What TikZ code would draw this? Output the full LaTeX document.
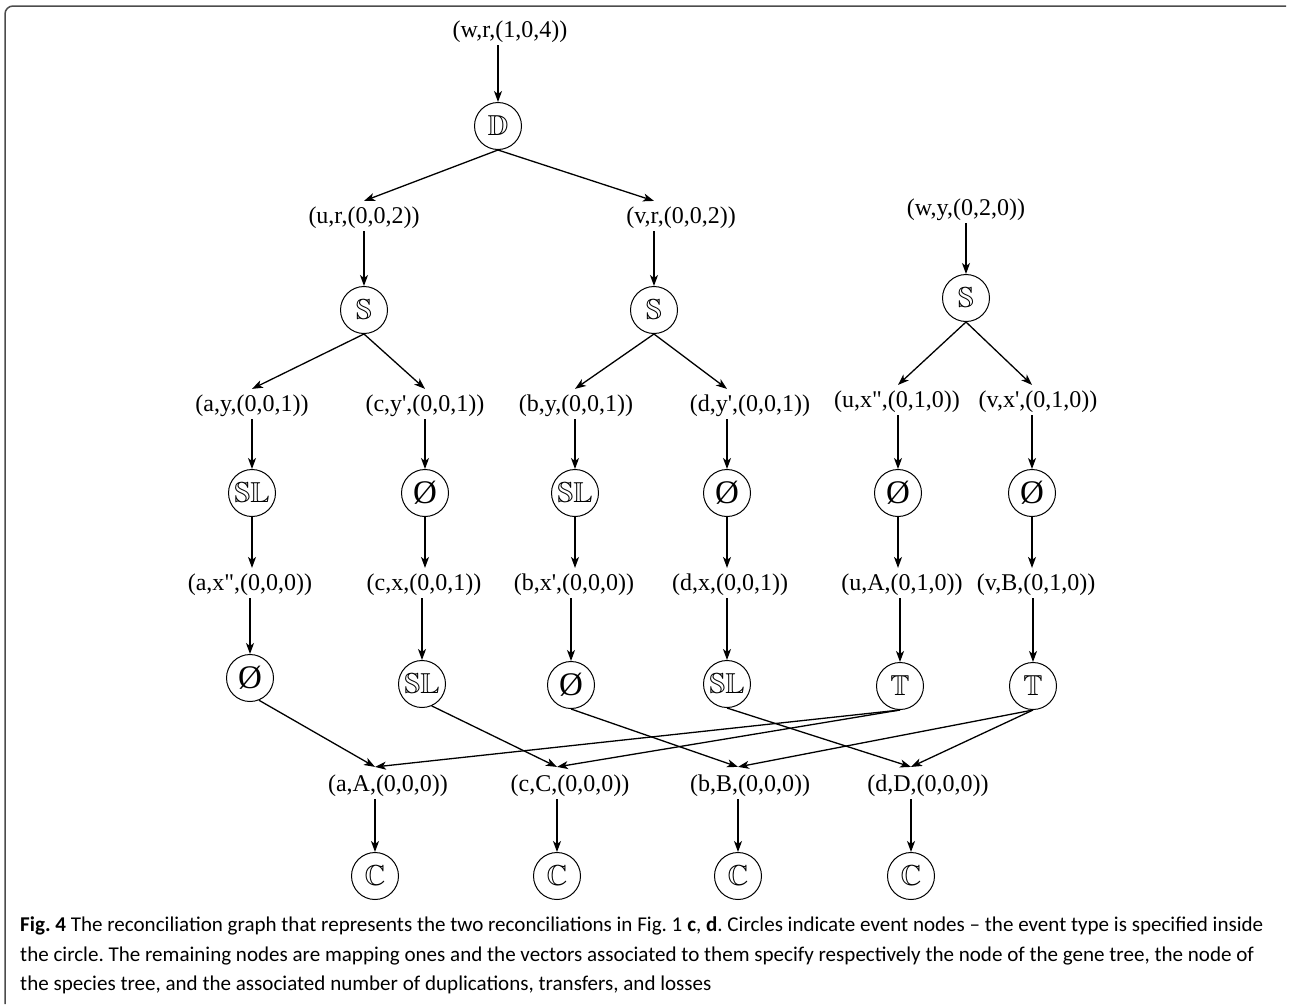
\documentclass[tikz,border=0pt]{standalone}
\usepackage{fontspec}
\usepackage{amssymb}
\usepackage{graphicx}
\setmainfont{Liberation Serif}
\newfontfamily\capfont{Carlito}
\usetikzlibrary{arrows.meta}
\newcommand{\myq}{\textquotesingle}
\newcommand{\mydq}{\textquotedbl}
\newcommand{\myempty}{{\fontsize{33}{33}\selectfont\O}}
\newcommand{\bbsym}[1]{\scalebox{1.16}{$\mathbb{#1}$}}
\begin{document}
\begin{tikzpicture}[x=1pt,y=-1pt,
  lab/.style={inner sep=2pt, font=\fontsize{24}{27}\selectfont},
  ev/.style={circle, draw, line width=1pt, minimum size=47pt, inner sep=0pt, font=\fontsize{24.88}{30}\selectfont},
  arr/.style={-{Stealth[length=11pt,width=8pt,inset=3pt]}, line width=1.3pt},
  frame/.style={draw=black!70, line width=1.5pt, rounded corners=8pt},
  captext/.style={anchor=base west, inner sep=0pt, font=\capfont\fontsize{21.05}{24}\selectfont\frenchspacing}
]
\useasboundingbox (0,0) rectangle (1290,1004);
\draw[frame] (1286,6) -- (5,6) -- (5,1004);

% event nodes
\node[ev] (D)  at (498,126) {\bbsym{D}};
\node[ev] (S1) at (364,310) {\bbsym{S}};
\node[ev] (S2) at (654,310) {\bbsym{S}};
\node[ev] (S3) at (966,298) {\bbsym{S}};
\node[ev] (L1) at (252,493) {\bbsym{SL}};
\node[ev] (E1) at (425,493) {\myempty};
\node[ev] (L2) at (575,493) {\bbsym{SL}};
\node[ev] (E2) at (727,493) {\myempty};
\node[ev] (E3) at (898,493) {\myempty};
\node[ev] (E4) at (1032,493) {\myempty};
\node[ev] (E5) at (250,678) {\myempty};
\node[ev] (L3) at (422,684) {\bbsym{SL}};
\node[ev] (E6) at (571,685) {\myempty};
\node[ev] (L4) at (727,684) {\bbsym{SL}};
\node[ev] (T1) at (900,686) {\bbsym{T}};
\node[ev] (T2) at (1033,686) {\bbsym{T}};
\node[ev] (C1) at (375,876) {\bbsym{C}};
\node[ev] (C2) at (557,876) {\bbsym{C}};
\node[ev] (C3) at (738,876) {\bbsym{C}};
\node[ev] (C4) at (911,876) {\bbsym{C}};

% mapping nodes
\node[lab] (wr) at (510,32) {(w,r,(1,0,4))};
\node[lab] (ur) at (364,218) {(u,r,(0,0,2))};
\node[lab] (vr) at (681,218) {(v,r,(0,0,2))};
\node[lab] (wy) at (966,210) {(w,y,(0,2,0))};
\node[lab] (ay) at (252,406) {(a,y,(0,0,1))};
\node[lab] (cy) at (425,406) {(c,y\myq,(0,0,1))};
\node[lab] (by) at (576,406) {(b,y,(0,0,1))};
\node[lab] (dy) at (750,406) {(d,y\myq,(0,0,1))};
\node[lab] (ux) at (897,402) {(u,x\mydq,(0,1,0))};
\node[lab] (vx) at (1038,402) {(v,x\myq,(0,1,0))};
\node[lab] (ax) at (250,585) {(a,x\mydq,(0,0,0))};
\node[lab] (cx) at (424,585) {(c,x,(0,0,1))};
\node[lab] (bx) at (574,585) {(b,x\myq,(0,0,0))};
\node[lab] (dx) at (730,585) {(d,x,(0,0,1))};
\node[lab] (uA) at (902,585) {(u,A,(0,1,0))};
\node[lab] (vB) at (1036,585) {(v,B,(0,1,0))};
\node[lab] (aA) at (388,786) {(a,A,(0,0,0))};
\node[lab] (cC) at (570,786) {(c,C,(0,0,0))};
\node[lab] (bB) at (750,786) {(b,B,(0,0,0))};
\node[lab] (dD) at (928,786) {(d,D,(0,0,0))};

% edges
\draw[arr] (wr.south -| D) -- (D);
\draw[arr] (D.south) -- ([yshift=4pt]ur.north -| S1);
\draw[arr] (D.south) -- ([yshift=4pt]vr.north -| S2);
\draw[arr] (ur.south -| S1) -- (S1);
\draw[arr] (vr.south -| S2) -- (S2);
\draw[arr] (wy.south -| S3) -- (S3);
\draw[arr] (S1.south) -- ([yshift=4pt]ay.north -| L1);
\draw[arr] (S1.south) -- ([yshift=4pt]cy.north -| E1);
\draw[arr] (S2.south) -- ([yshift=4pt]by.north -| L2);
\draw[arr] (S2.south) -- ([yshift=4pt]dy.north -| E2);
\draw[arr] (S3.south) -- ([yshift=4pt]ux.north -| E3);
\draw[arr] (S3.south) -- ([yshift=4pt]vx.north -| E4);
\draw[arr] (ay.south -| L1) -- (L1);
\draw[arr] (cy.south -| E1) -- (E1);
\draw[arr] (by.south -| L2) -- (L2);
\draw[arr] (dy.south -| E2) -- (E2);
\draw[arr] (ux.south -| E3) -- (E3);
\draw[arr] (vx.south -| E4) -- (E4);
\draw[arr] (L1) -- ([yshift=4pt]ax.north -| L1);
\draw[arr] (E1) -- ([yshift=4pt]cx.north -| E1);
\draw[arr] (L2) -- ([yshift=4pt]bx.north -| L2);
\draw[arr] (E2) -- ([yshift=4pt]dx.north -| E2);
\draw[arr] (E3) -- ([yshift=4pt]uA.north -| E3);
\draw[arr] (E4) -- ([yshift=4pt]vB.north -| E4);
\draw[arr] (ax.south -| E5) -- (E5);
\draw[arr] (cx.south -| L3) -- (L3);
\draw[arr] (bx.south -| E6) -- (E6);
\draw[arr] (dx.south -| L4) -- (L4);
\draw[arr] (uA.south -| T1) -- (T1);
\draw[arr] (vB.south -| T2) -- (T2);
\draw[arr] (E5.-68) -- ([yshift=6pt]aA.north -| C1);
\draw[arr] (L3.-66) -- ([yshift=6pt]cC.north -| C2);
\draw[arr] (E6.south) -- ([yshift=6pt]bB.north -| C3);
\draw[arr] (L4.south) -- ([yshift=6pt]dD.north -| C4);
\draw[arr] (T1.south) -- ([yshift=6pt]aA.north -| C1);
\draw[arr] (T1.south) -- ([yshift=6pt]cC.north -| C2);
\draw[arr] (T2.south) -- ([yshift=6pt]bB.north -| C3);
\draw[arr] (T2.south) -- ([yshift=6pt]dD.north -| C4);
\draw[arr] (aA.south -| C1) -- (C1);
\draw[arr] (cC.south -| C2) -- (C2);
\draw[arr] (bB.south -| C3) -- (C3);
\draw[arr] (dD.south -| C4) -- (C4);

% caption
\node[captext] (cap1) at (20,931) {\textbf{Fig. 4} The reconciliation graph that represents the two reconciliations in Fig. 1 \textbf{c}, \textbf{d}. Circles indicate event nodes \textendash{} the event type is specified inside};
\node[captext] (cap2) at (20,961) {the circle. The remaining nodes are mapping ones and the vectors associated to them specify respectively the node of the gene tree, the node of};
\node[captext] (cap3) at (20,990) {the species tree, and the associated number of duplications, transfers, and losses};
\end{tikzpicture}
\end{document}
